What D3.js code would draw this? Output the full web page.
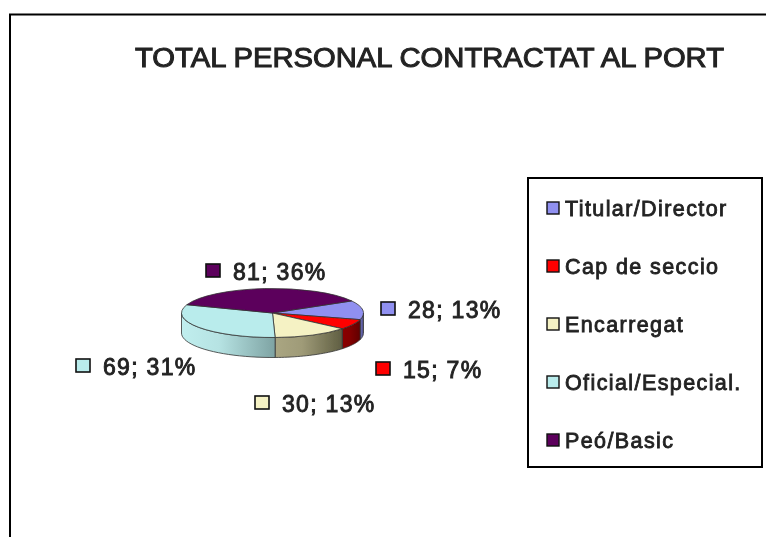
<!DOCTYPE html>
<html>
<head>
<meta charset="utf-8">
<script src="https://cdn.jsdelivr.net/npm/d3@7"></script>
<style>
html,body{margin:0;padding:0;background:#fff}
svg{display:block}
text{font-family:"Liberation Sans",Arial,sans-serif;fill:#222;stroke:#222}
.title{font-size:27px;stroke-width:1px}
.lab{font-size:23px;stroke-width:0.9px;letter-spacing:1.3px}
.leg{font-size:21.5px;stroke-width:0.85px;letter-spacing:1.4px}
</style>
</head>
<body>
<svg width="766" height="537"></svg>
<script>
var chartTitle = "TOTAL PERSONAL CONTRACTAT AL PORT"
var categories = ["Titular/Director","Cap de seccio","Encarregat","Oficial/Especial.","Peó/Basic"]
var values = [28,15,30,69,81]
var percents = [13,7,13,31,36]
var colors = ["#9090f0","#ff0000","#f5f2c4","#b9ecec","#5c005c"]
// side wall gradient, left colour then right colour
var sideLeft = ["#6a6ab0","#8a0000","#aaa682","#c0eeee","#440044"]
var sideRight = ["#4a4a80","#600000","#5f5e42","#7ea3a3","#300030"]

var svg = d3.select("svg")
var defs = svg.append("defs")

defs.append("filter").attr("id","soft")
    .attr("x","-5%").attr("y","-5%").attr("width","110%").attr("height","110%")
    .append("feGaussianBlur").attr("stdDeviation",0.7)

var root = svg.append("g").attr("filter","url(#soft)")

// outer frame, open at right and bottom
root.append("path")
    .attr("d","M10,537V14.5H766")
    .attr("fill","none").attr("stroke","#000").attr("stroke-width",2)

root.append("text").attr("class","title")
    .attr("x",135).attr("y",67)
    .attr("textLength",589).attr("lengthAdjust","spacingAndGlyphs")
    .text(chartTitle)

// pie
var rx = 91, ry = 24.5, depth = 20
var cx = 272.5, cy = 313

var pie = d3.pie().sort(null)
    .startAngle(60.5*Math.PI/180)
    .endAngle((60.5+360)*Math.PI/180)
var slices = pie(values)
slices.forEach(function(s,i){ s.i = i })

var px = function(a){ return cx + rx*Math.sin(a) }
var py = function(a){ return cy - ry*Math.cos(a) }

var arc = d3.arc().innerRadius(0).outerRadius(rx)

// front walls: only the part of each slice between 90deg and 270deg shows
var lo = Math.PI/2, hi = 3*Math.PI/2
var pieG = root.append("g")

var walls = slices.map(function(s){
    return {i:s.i, a0:Math.max(s.startAngle,lo), a1:Math.min(s.endAngle,hi)}
}).filter(function(w){ return w.a1 > w.a0 })

walls.forEach(function(w){
    var grad = defs.append("linearGradient").attr("id","wall"+w.i)
        .attr("gradientUnits","userSpaceOnUse")
        .attr("x1",px(w.a1)).attr("x2",px(w.a0)).attr("y1",0).attr("y2",0)
    grad.append("stop").attr("offset",0).attr("stop-color",sideLeft[w.i])
    grad.append("stop").attr("offset",0.4).attr("stop-color",d3.interpolateRgb(sideLeft[w.i],sideRight[w.i])(0.15))
    grad.append("stop").attr("offset",1).attr("stop-color",sideRight[w.i])
})

var wallPath = function(w){
    var n = 24, a = d3.range(n+1).map(function(k){ return w.a0+(w.a1-w.a0)*k/n })
    var top = a.map(function(t){ return [px(t),py(t)] })
    var bot = a.slice().reverse().map(function(t){ return [px(t),py(t)+depth] })
    return d3.line()(top.concat(bot))+"Z"
}

pieG.selectAll("path.wall").data(walls).enter().append("path")
    .attr("class","wall")
    .attr("d",wallPath)
    .attr("fill",function(w){ return "url(#wall"+w.i+")" })
    .attr("stroke","#333").attr("stroke-width",0.8)

pieG.selectAll("path.top").data(slices).enter().append("path")
    .attr("class","top")
    .attr("transform","translate("+cx+","+cy+") scale(1,"+(ry/rx)+")")
    .attr("d",arc)
    .attr("fill",function(s){ return colors[s.i] })
    .attr("stroke","#333").attr("stroke-width",0.8)
    .attr("vector-effect","non-scaling-stroke")

// data labels with their key squares
var labelX = [408,403,282,103,233]
var labelY = [318,378,412,375,280]

var labels = root.selectAll("g.dl").data(values).enter().append("g").attr("class","dl")
    .attr("transform",function(d,i){ return "translate("+labelX[i]+","+labelY[i]+")" })
labels.append("rect")
    .attr("x",-27).attr("y",-16).attr("width",14).attr("height",13)
    .attr("fill",function(d,i){ return colors[i] })
    .attr("stroke","#111").attr("stroke-width",1.6)
labels.append("text").attr("class","lab")
    .text(function(d,i){ return d+"; "+percents[i]+"%" })

// legend
root.append("rect")
    .attr("x",528).attr("y",178).attr("width",234).attr("height",289)
    .attr("fill","#fff").attr("stroke","#000").attr("stroke-width",2)

var legendY = d3.scalePoint().domain(categories).range([208,440])

var legend = root.selectAll("g.lg").data(categories).enter().append("g").attr("class","lg")
    .attr("transform",function(d){ return "translate(547,"+legendY(d)+")" })
legend.append("rect")
    .attr("x",0).attr("y",-6).attr("width",12).attr("height",12)
    .attr("fill",function(d,i){ return colors[i] })
    .attr("stroke","#111").attr("stroke-width",1.4)
legend.append("text").attr("class","leg")
    .attr("x",18).attr("y",8)
    .text(function(d){ return d })
</script>
</body>
</html>
